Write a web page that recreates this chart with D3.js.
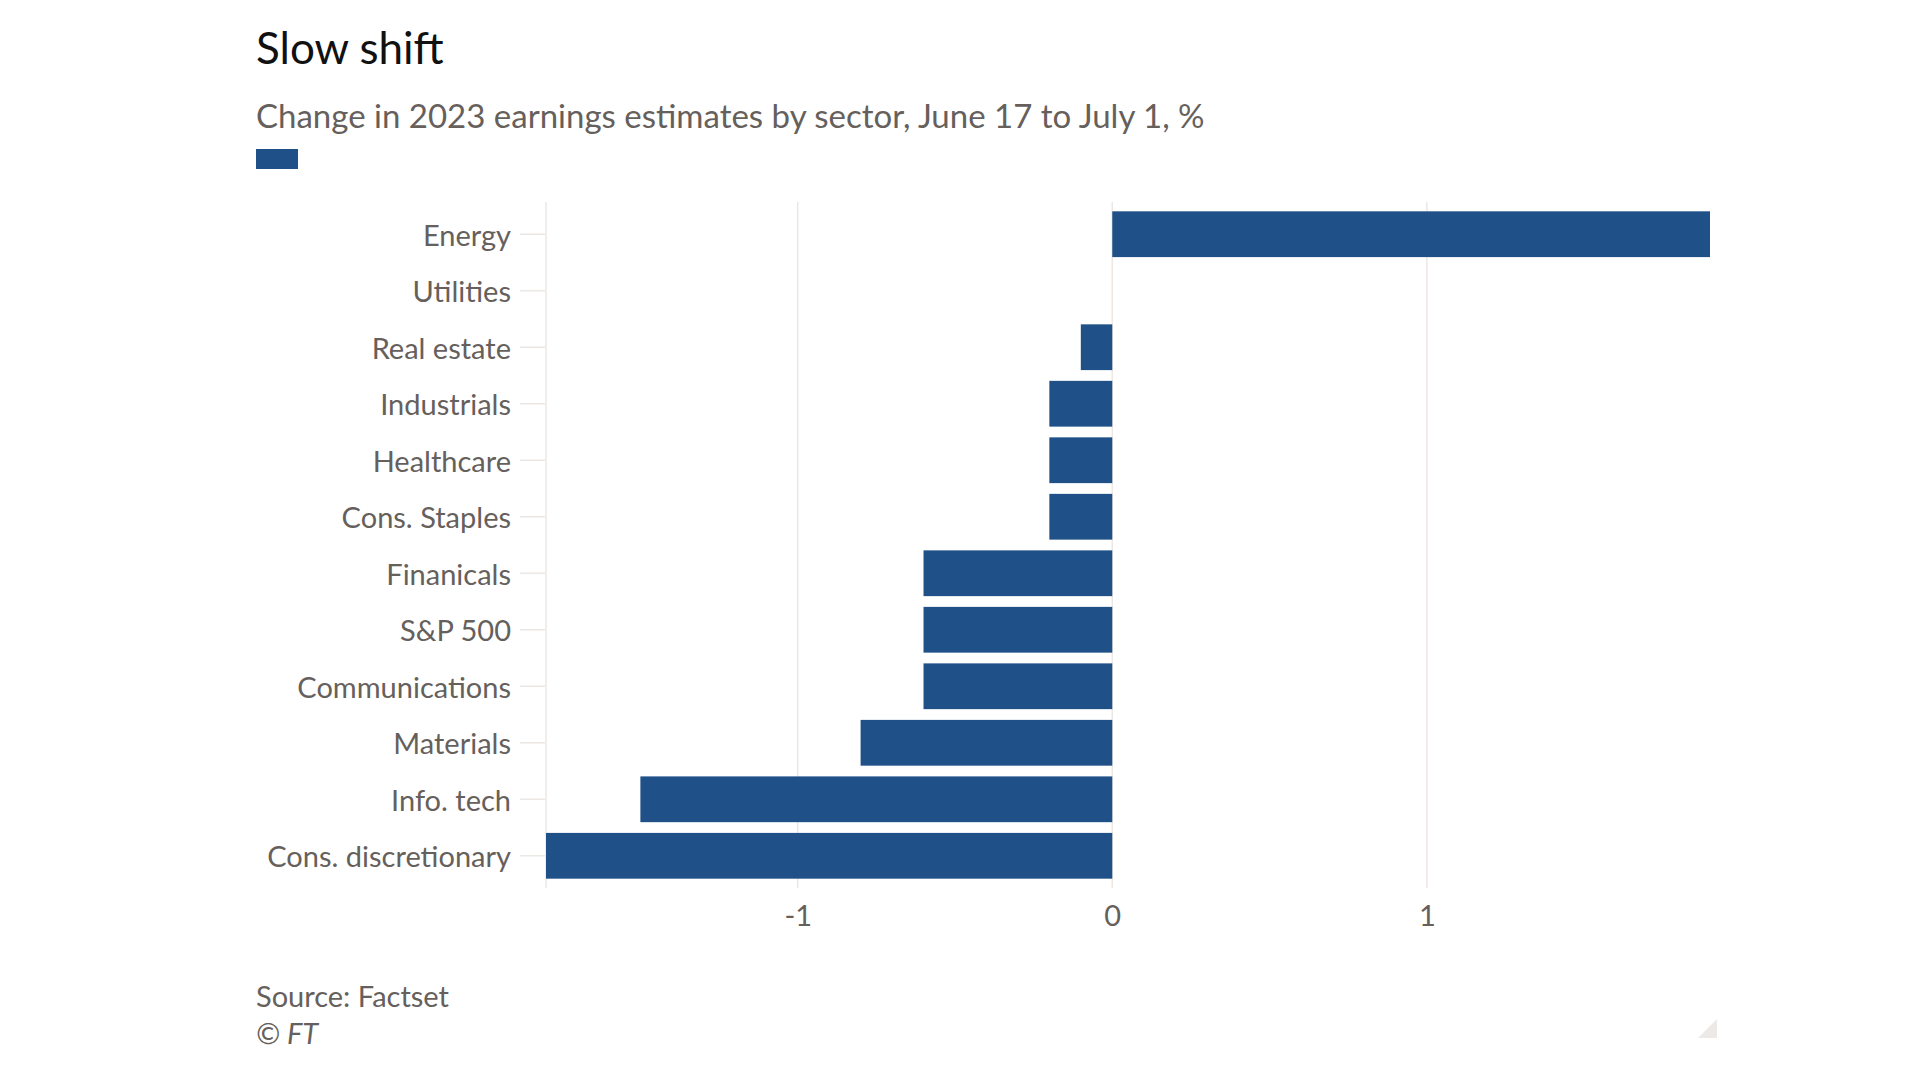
<!DOCTYPE html>
<html>
<head>
<meta charset="utf-8">
<script src="https://cdn.jsdelivr.net/npm/d3@7"></script>
<style>
  html, body { margin: 0; padding: 0; background: #ffffff; }
  svg { display: block; }
  text { font-family: Lato, "Noto Sans", sans-serif; }
</style>
</head>
<body>
<svg id="chart" width="1920" height="1080"></svg>
<script>
const categories = ["Energy", "Utilities", "Real estate", "Industrials", "Healthcare", "Cons. Staples",
  "Finanicals", "S&P 500", "Communications", "Materials", "Info. tech", "Cons. discretionary"];
const values = [1.9, 0, -0.1, -0.2, -0.2, -0.2, -0.6, -0.6, -0.6, -0.8, -1.5, -1.8];
const xTicks = [-1, 0, 1];
const title = "Slow shift";
const subtitle = "Change in 2023 earnings estimates by sector, June 17 to July 1, %";
const source = "Source: Factset";
const copyright = "© FT";

const svg = d3.select("#chart");
const textColor = "#66605c";
const barColor = "#1f5088";
const gridColor = "#ece7e3";
const fontFamily = "Lato, 'Noto Sans', sans-serif";

const x = d3.scaleLinear().domain([d3.min(values), d3.max(values)]).range([546, 1710]);
const y = d3.scaleBand().domain(categories).range([202, 888]).paddingInner(0.19).paddingOuter(0.165);

// title etc
svg.append("text").attr("x", 256).attr("y", 64).attr("font-size", 44).attr("fill", "#111")
  .text(title);
svg.append("text").attr("x", 256).attr("y", 128).attr("font-size", 33).attr("fill", textColor)
  .text(subtitle);
svg.append("rect").attr("x", 256).attr("y", 149).attr("width", 42).attr("height", 20).attr("fill", barColor);

// gridlines
const g = svg.append("g");
g.selectAll("line.grid").data(xTicks.concat([x.domain()[0]])).join("line")
  .attr("class", "grid")
  .attr("x1", d => x(d)).attr("x2", d => x(d))
  .attr("y1", 202).attr("y2", 888)
  .attr("stroke", gridColor).attr("stroke-width", 1.5);

// y axis
const yAxis = d3.axisLeft(y).tickSize(25).tickPadding(9);
const ya = svg.append("g").attr("transform", "translate(545,0)").call(yAxis);
ya.select(".domain").remove();
ya.selectAll(".tick line").attr("stroke", gridColor).attr("stroke-width", 1.5);
ya.selectAll(".tick text").attr("font-size", 29).attr("fill", textColor)
  .attr("dy", "0.4em").attr("font-family", fontFamily);

// bars
svg.append("g").selectAll("rect").data(categories.map((c, i) => ({c, v: values[i]}))).join("rect")
  .attr("x", d => x(Math.min(0, d.v)))
  .attr("width", d => Math.abs(x(d.v) - x(0)))
  .attr("y", d => y(d.c))
  .attr("height", y.bandwidth())
  .attr("fill", barColor);

// x axis
const xAxis = d3.axisBottom(x).tickValues(xTicks).tickSize(0).tickPadding(0).tickFormat(d => String(d));
const xa = svg.append("g").attr("transform", "translate(0,888)").call(xAxis);
xa.select(".domain").remove();
xa.selectAll(".tick text").attr("font-size", 29).attr("fill", textColor)
  .attr("dy", null).attr("y", 38)
  .attr("font-family", fontFamily);

// source
svg.append("text").attr("x", 256).attr("y", 1007).attr("font-size", 29).attr("fill", textColor).text(source);
svg.append("text").attr("x", 256).attr("y", 1044).attr("font-size", 29).attr("font-style", "italic")
  .attr("fill", textColor).text(copyright);

// corner mark
svg.append("path").attr("d", "M1698,1038L1717,1038L1717,1019Z").attr("fill", "#ece9e6");
</script>
</body>
</html>
